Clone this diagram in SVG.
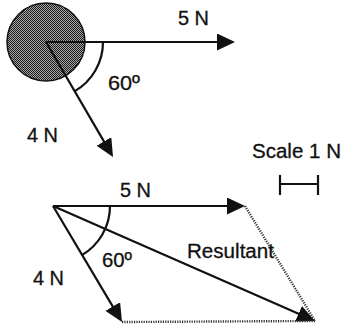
<svg xmlns="http://www.w3.org/2000/svg" width="343" height="326" viewBox="0 0 343 326">
<style>
  .lbl { font-family: "Liberation Sans", Arial, sans-serif; font-size: 20px; fill: #111; stroke: #111; stroke-width: 0.3; }
  .vec { stroke: #111; stroke-width: 2.2; fill: none; }
  .arc { stroke: #111; stroke-width: 2.2; fill: none; }
  .dot { stroke: #333; stroke-width: 2.4; stroke-dasharray: 1.2 1.2; fill: none; }
</style>
<defs>
  <pattern id="stip" width="2" height="2" patternUnits="userSpaceOnUse">
    <rect width="2" height="2" fill="#a8a8a8"/>
    <rect width="1" height="1" fill="#1a1a1a"/>
    <rect x="1" y="1" width="1" height="1" fill="#1a1a1a"/>
  </pattern>
  <marker id="ah" viewBox="0 0 18 17" refX="10" refY="8.5" markerWidth="18" markerHeight="17" markerUnits="userSpaceOnUse" orient="auto">
    <path d="M0,0 L18,8.5 L0,17 z" fill="#111"/>
  </marker>
</defs>
<rect width="343" height="326" fill="#fff"/>

<g id="body">
  <circle cx="46" cy="42" r="39" fill="url(#stip)" stroke="#111" stroke-width="1.5"/>
</g>

<g id="connectors">
  <line class="vec" x1="46" y1="42" x2="227" y2="42" marker-end="url(#ah)"/>
  <line class="vec" x1="46" y1="42" x2="109" y2="150.1" marker-end="url(#ah)"/>
  <path class="arc" d="M103,42 A57,57 0 0 1 74.5,91.4"/>

  <line class="vec" x1="53" y1="206" x2="237" y2="206" marker-end="url(#ah)"/>
  <line class="vec" x1="53" y1="206" x2="117.9" y2="315.1" marker-end="url(#ah)"/>
  <line class="vec" x1="53" y1="206" x2="307.7" y2="317.8" marker-end="url(#ah)"/>
  <path class="arc" d="M110,206 A57,57 0 0 1 81.5,255.4"/>
  <line class="dot" x1="245" y1="206" x2="315" y2="321"/>
  <line class="dot" x1="122" y1="322" x2="315" y2="321"/>
</g>

<g id="scale">
  <line class="vec" x1="280" y1="175" x2="280" y2="195"/>
  <line class="vec" x1="318" y1="175" x2="318" y2="195"/>
  <line class="vec" x1="280" y1="184" x2="318" y2="184"/>
</g>

<g id="labels">
  <text class="lbl" x="178" y="25" textLength="31" lengthAdjust="spacingAndGlyphs">5 N</text>
  <text class="lbl" x="108" y="90" textLength="32" lengthAdjust="spacingAndGlyphs">60º</text>
  <text class="lbl" x="27" y="142" textLength="31" lengthAdjust="spacingAndGlyphs">4 N</text>
  <text class="lbl" x="252" y="158" textLength="89" lengthAdjust="spacingAndGlyphs">Scale 1 N</text>
  <text class="lbl" x="120" y="197" textLength="31" lengthAdjust="spacingAndGlyphs">5 N</text>
  <text class="lbl" x="102" y="267" textLength="30" lengthAdjust="spacingAndGlyphs">60º</text>
  <text class="lbl" x="33" y="285" textLength="31" lengthAdjust="spacingAndGlyphs">4 N</text>
  <text class="lbl" x="187" y="258" textLength="87" lengthAdjust="spacingAndGlyphs">Resultant</text>
</g>
</svg>
